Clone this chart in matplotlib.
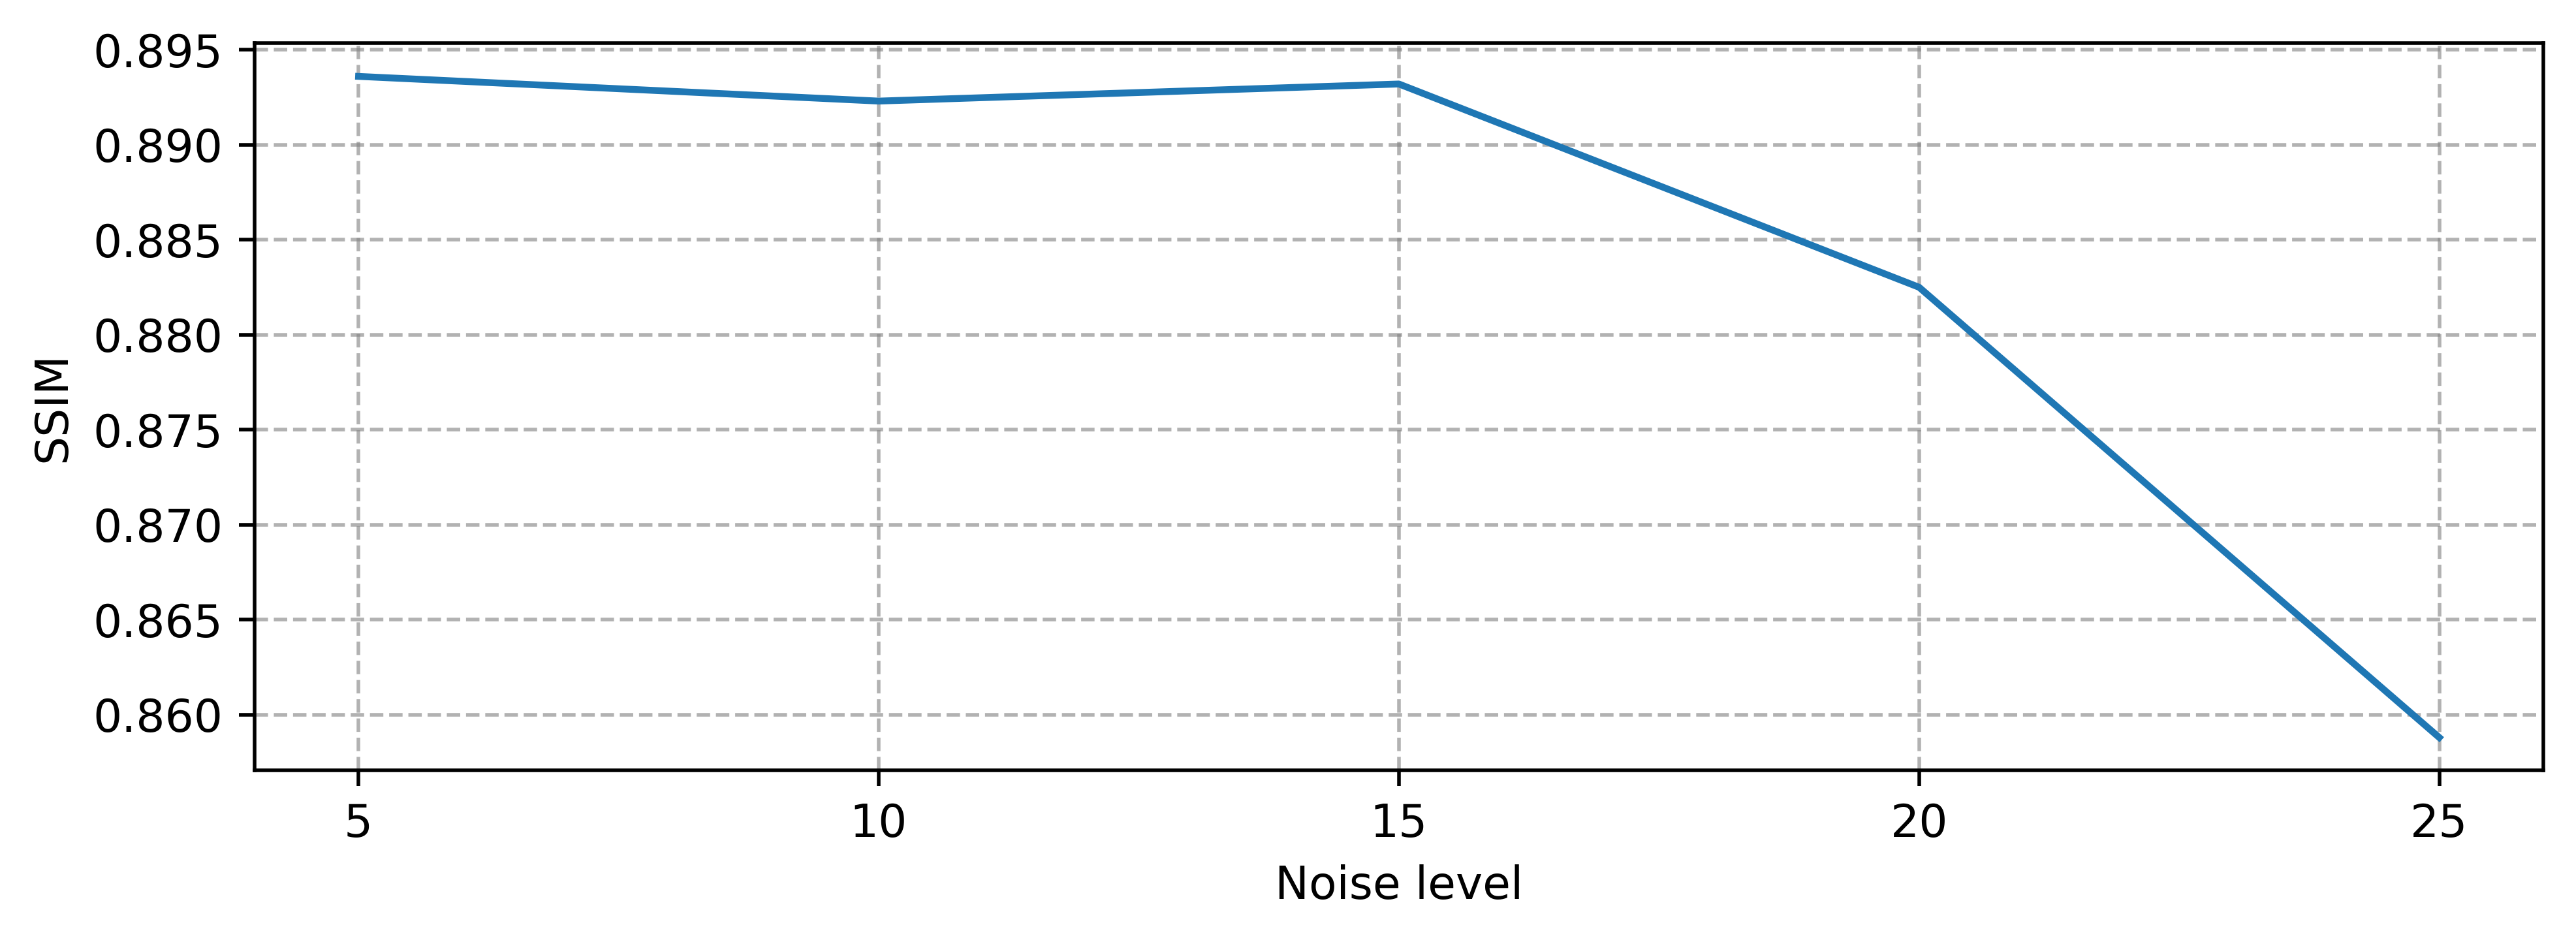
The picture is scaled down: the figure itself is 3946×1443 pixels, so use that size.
import matplotlib
matplotlib.use("Agg")
import matplotlib.pyplot as plt

# SSIM
noise_levels = [5, 10, 15, 20, 25]
ssim = [0.8936, 0.8923, 0.8932, 0.8825, 0.8588]

fig, ax = plt.subplots(figsize=(3946 / 500, 1443 / 500), dpi=500)
fig.subplots_adjust(left=0.0988, right=0.9873, top=0.954, bottom=0.182)

ax.plot(noise_levels, ssim, color='#1f77b4')
ax.set_xticks(noise_levels)
ax.set_xlabel('Noise level')
ax.set_ylabel('SSIM')
ax.grid(True, linestyle='--', color='gray', alpha=0.6)

fig.savefig('out.png', dpi=500)
